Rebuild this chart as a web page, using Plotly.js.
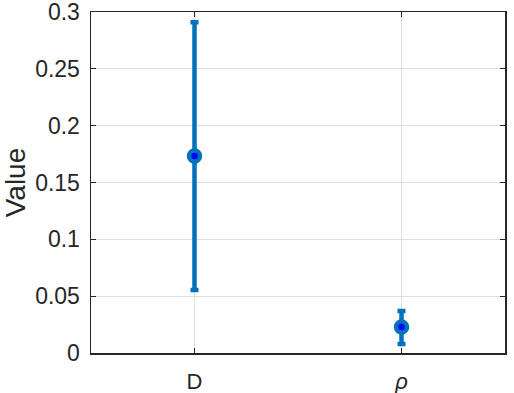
<!DOCTYPE html>
<html>
<head>
<meta charset="utf-8">
<script src="https://cdn.plot.ly/plotly-3.0.1.min.js"></script>
<style>
  html, body { margin: 0; padding: 0; background: #fff; }
  #plotArea { width: 514px; height: 393px; }
</style>
</head>
<body>
<div id="plotArea"></div>
<script>
// parameter estimates with their intervals
var params = ["D", "ρ"];
var values = [0.1733, 0.0229];
var upper = [0.2910, 0.0370];
var lower = [0.0554, 0.0079];
var tickText = ["D", "<i>ρ</i>"];
var yTicks = [0, 0.05, 0.1, 0.15, 0.2, 0.25, 0.3];

var xPos = params.map(function (p, i) { return i + 1; });
var errPlus = values.map(function (v, i) { return upper[i] - v; });
var errMinus = values.map(function (v, i) { return v - lower[i]; });

var trace = {
    x: xPos,
    y: values,
    type: "scatter",
    mode: "markers",
    marker: {size: 11, color: "#0000FF", line: {color: "#0072BD", width: 4.5}},
    error_y: {
        type: "data",
        symmetric: false,
        array: errPlus,
        arrayminus: errMinus,
        color: "#0072BD",
        thickness: 4.5,
        width: 4
    },
    hoverinfo: "none"
};

var layout = {
    width: 514,
    height: 393,
    margin: {l: 91, r: 9, t: 12, b: 40},
    paper_bgcolor: "#fff",
    plot_bgcolor: "#fff",
    showlegend: false,
    font: {family: "Liberation Sans, Arial, sans-serif", size: 20, color: "#262626"},
    xaxis: {
        range: [0.5, 2.5],
        tickvals: xPos,
        ticktext: tickText,
        showgrid: true,
        gridcolor: "#dedede",
        gridwidth: 1,
        zeroline: false,
        showline: true,
        linecolor: "#262626",
        linewidth: 1.5,
        mirror: "ticks",
        ticks: "inside",
        ticklen: 5,
        tickcolor: "#262626",
        ticklabelstandoff: 8,
        tickfont: {size: 22}
    },
    yaxis: {
        range: [0, 0.30001],
        tickvals: yTicks,
        ticktext: yTicks.map(String),
        showgrid: true,
        gridcolor: "#dedede",
        gridwidth: 1,
        zeroline: false,
        showline: true,
        linecolor: "#262626",
        linewidth: 1.5,
        mirror: "ticks",
        ticks: "inside",
        ticklen: 5,
        tickcolor: "#262626",
        ticklabelstandoff: 5,
        ticklabeloverflow: "allow",
        tickfont: {size: 23},
        title: {text: "Value", font: {size: 28}, standoff: 12}
    }
};

Plotly.newPlot("plotArea", [trace], layout, {staticPlot: true, displayModeBar: false});
</script>
</body>
</html>
